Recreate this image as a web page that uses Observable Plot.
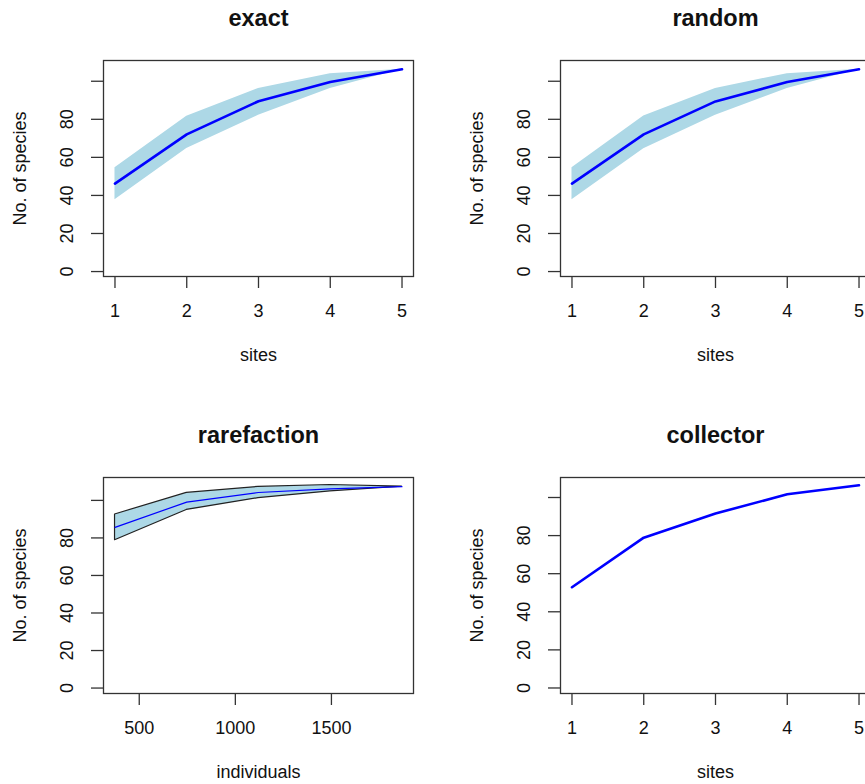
<!DOCTYPE html>
<html>
<head>
<meta charset="utf-8">
<script src="https://cdn.jsdelivr.net/npm/d3@7"></script>
<script src="https://cdn.jsdelivr.net/npm/@observablehq/plot@0.6"></script>
<style>
  html, body { margin: 0; padding: 0; background: #fff; overflow: hidden; }
  #grid { display: grid; grid-template-columns: 457px 457px; grid-auto-rows: 417px; width: 914px; }
  #grid svg { display: block; }
</style>
</head>
<body>
<div id="grid"></div>
<script>
// Species accumulation curves, four methods
const sites = [1, 2, 3, 4, 5];

const exactRichness = [46.2, 72.1, 89.5, 99.6, 106.3];
const exactUpper    = [54.6, 81.6, 96.2, 104.0, 106.3];
const exactLower    = [37.7, 64.6, 82.1, 96.2, 106.3];

const randomRichness = [46.2, 72.1, 89.4, 99.6, 106.3];
const randomUpper    = [54.6, 81.7, 96.2, 104.0, 106.3];
const randomLower    = [37.7, 64.5, 82.1, 96.2, 106.3];

const individuals  = [374, 747, 1120, 1494, 1867];
const rareRichness = [85.6, 99.1, 104.2, 106.1, 107.3];
const rareUpper    = [92.5, 104.0, 107.2, 108.2, 107.3];
const rareLower    = [78.8, 94.9, 101.2, 104.8, 107.3];

const collectorRichness = [52.9, 78.9, 91.6, 101.7, 106.4];

const siteTicks = [1, 2, 3, 4, 5];
const individualTicks = [500, 1000, 1500];
const yTicks = [0, 20, 40, 60, 80, 100];
const yTickLabels = [0, 20, 40, 60, 80];

const font = "'Liberation Sans', Arial, Helvetica, sans-serif";
const ink = "#111";
const idx = sites.map((_, i) => i);

function panel({title, xLabel, xDomain, xTicks, yDomain, marks}) {
  const txt = {textAnchor: "middle", lineAnchor: "middle", fill: ink};
  return Plot.plot({
    width: 457,
    height: 417,
    marginLeft: 103,
    marginRight: 44,
    marginTop: 60,
    marginBottom: 141,
    x: {domain: xDomain},
    y: {domain: yDomain},
    style: {fontFamily: font, background: "#fff", overflow: "visible", color: ink},
    marks: [
      ...marks,
      Plot.frame({stroke: "#333", strokeWidth: 1.3}),
      Plot.axisX({ticks: xTicks, tickSize: 12, tickFormat: () => "", label: null, stroke: "#333", strokeWidth: 1.3}),
      Plot.axisY({ticks: yTicks, tickSize: 12, tickFormat: () => "", label: null, stroke: "#333", strokeWidth: 1.3}),
      Plot.text(xTicks, {...txt, x: d => d, text: d => String(d), frameAnchor: "bottom", dy: 35, fontSize: 18}),
      Plot.text(yTickLabels, {...txt, y: d => d, text: d => String(d), frameAnchor: "left", dx: -36, rotate: -90, fontSize: 18}),
      Plot.text([title], {...txt, text: d => d, frameAnchor: "top", dy: -42, fontSize: 23.5, fontWeight: "bold"}),
      Plot.text([xLabel], {...txt, text: d => d, frameAnchor: "bottom", dy: 79, fontSize: 18}),
      Plot.text(["No. of species"], {...txt, text: d => d, frameAnchor: "left", dx: -83, rotate: -90, fontSize: 18})
    ]
  });
}

function bandPanel(title, richness, upper, lower) {
  return panel({
    title,
    xLabel: "sites",
    xDomain: [0.84, 5.16],
    xTicks: siteTicks,
    yDomain: [-2.6, 110.9],
    marks: [
      Plot.areaY(idx, {x: i => sites[i], y1: i => lower[i], y2: i => upper[i], fill: "#ADD8E6"}),
      Plot.line(idx, {x: i => sites[i], y: i => richness[i], stroke: "#0000FF", strokeWidth: 2.6})
    ]
  });
}

const grid = document.getElementById("grid");

grid.append(bandPanel("exact", exactRichness, exactUpper, exactLower));
grid.append(bandPanel("random", randomRichness, randomUpper, randomLower));

grid.append(panel({
  title: "rarefaction",
  xLabel: "individuals",
  xDomain: [314, 1927],
  xTicks: individualTicks,
  yDomain: [-2.9, 112.2],
  marks: [
    Plot.areaY(idx, {x: i => individuals[i], y1: i => rareLower[i], y2: i => rareUpper[i],
      fill: "#ADD8E6", stroke: "#222", strokeWidth: 1.2}),
    Plot.line(idx, {x: i => individuals[i], y: i => rareRichness[i], stroke: "#0000FF", strokeWidth: 1.2})
  ]
}));

grid.append(panel({
  title: "collector",
  xLabel: "sites",
  xDomain: [0.84, 5.16],
  xTicks: siteTicks,
  yDomain: [-2.9, 110.5],
  marks: [
    Plot.line(idx, {x: i => sites[i], y: i => collectorRichness[i], stroke: "#0000FF", strokeWidth: 2.6})
  ]
}));
</script>
</body>
</html>
